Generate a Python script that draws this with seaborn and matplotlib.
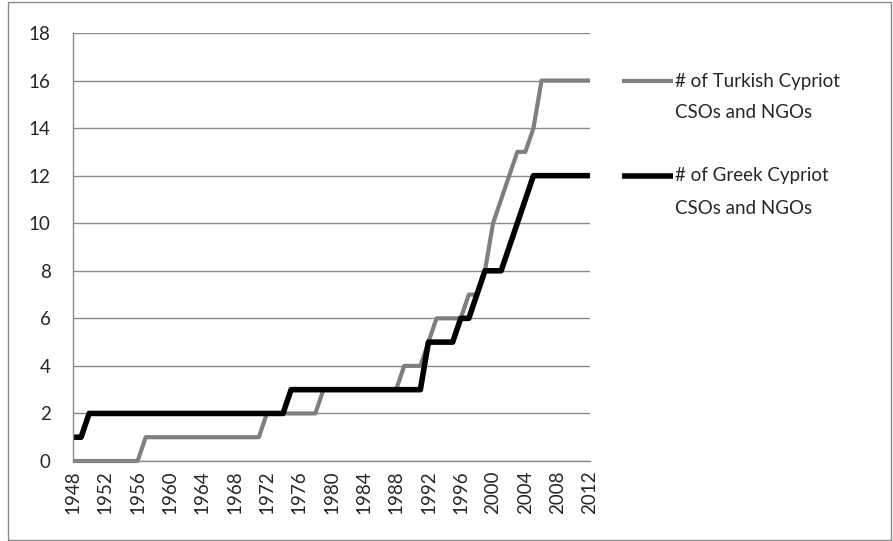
import matplotlib
matplotlib.use("Agg")
import matplotlib.pyplot as plt
import seaborn as sns
import pandas as pd
from matplotlib.lines import Line2D
from matplotlib.patches import Rectangle

# ---------------- data ----------------
years = list(range(1948, 2013))
turkish = [0, 0, 0, 0, 0, 0, 0, 0, 0,
           1, 1, 1, 1, 1, 1, 1, 1, 1, 1, 1, 1, 1, 1, 1,
           2, 2, 2, 2, 2, 2, 2,
           3, 3, 3, 3, 3, 3, 3, 3, 3, 3,
           4, 4, 4,
           5,
           6, 6, 6, 6,
           7, 7,
           8, 10, 11, 12, 13, 13, 14,
           16, 16, 16, 16, 16, 16, 16]
greek = [1, 1,
         2, 2, 2, 2, 2, 2, 2, 2, 2, 2, 2, 2, 2, 2, 2, 2, 2, 2, 2, 2, 2, 2, 2, 2, 2,
         3, 3, 3, 3, 3, 3, 3, 3, 3, 3, 3, 3, 3, 3, 3, 3, 3,
         5, 5, 5, 5,
         6, 6,
         7, 8, 8, 8, 9, 10, 11,
         12, 12, 12, 12, 12, 12, 12, 12]
series_names = ["# of Turkish Cypriot CSOs and NGOs", "# of Greek Cypriot CSOs and NGOs"]
legend_lines = [["# of Turkish Cypriot", "CSOs and NGOs"], ["# of Greek Cypriot", "CSOs and NGOs"]]
y_ticks = [0, 2, 4, 6, 8, 10, 12, 14, 16, 18]
label_years = [1948, 1952, 1956, 1960, 1964, 1968, 1972, 1976, 1980,
               1984, 1988, 1992, 1996, 2000, 2004, 2008, 2012]

# ---------------- style ----------------
sns.set_style("white")
plt.rcParams['font.family'] = ['Lato', 'DejaVu Sans']
W, H = 893, 541
fig = plt.figure(figsize=(W / 100, H / 100), dpi=100)
ax = fig.add_axes([73 / W, 1 - 461 / H, 517 / W, 428 / H])

colors = ["#7f7f7f", "#000000"]
widths = [3.0, 4.0]

df = pd.DataFrame({
    "year": years + years,
    "count": turkish + greek,
    "series": [series_names[0]] * len(years) + [series_names[1]] * len(years),
})

for name, c, lw in zip(series_names, colors, widths):
    sns.lineplot(data=df[df["series"] == name], x="year", y="count", color=c,
                 linewidth=lw, ax=ax, legend=False, clip_on=False,
                 solid_capstyle="butt", solid_joinstyle="round")

grid_c = "#8a8a8a"
text_c = "#262626"
ax.set_xlim(1948, 2012)
ax.set_ylim(0, 18)
ax.set_yticks(y_ticks)
ax.set_yticklabels([str(v) for v in y_ticks])
ax.set_xticks(years)
ax.set_xticklabels([str(y) if y in label_years else "" for y in years], rotation=90)
ax.yaxis.grid(True, color=grid_c, linewidth=1)
ax.xaxis.grid(False)
ax.set_axisbelow(True)
for s in ["top", "right"]:
    ax.spines[s].set_visible(False)
for s in ["left", "bottom"]:
    ax.spines[s].set_color(grid_c)
    ax.spines[s].set_linewidth(1)
ax.tick_params(axis="both", which="both", direction="out", length=4, width=1,
               color=grid_c, labelsize=13.5, labelcolor=text_c)
ax.tick_params(axis="y", pad=12)
ax.tick_params(axis="x", pad=3)
ax.set_xlabel("")
ax.set_ylabel("")

# ---------------- legend ----------------
leg_y = [81, 176]
for (l1, l2), c, lw, yy in zip(legend_lines, colors, widths, leg_y):
    fig.add_artist(Line2D([622 / W, 673 / W], [1 - yy / H] * 2, transform=fig.transFigure,
                          color=c, linewidth=lw, solid_capstyle="butt"))
    fig.text(675 / W, 1 - yy / H, l1, va="center", ha="left", fontsize=13.5, color=text_c)
    fig.text(675 / W, 1 - (yy + 32) / H, l2, va="center", ha="left", fontsize=13.5, color=text_c)

# chart border
fig.add_artist(Rectangle((8 / W, 1 / H), 883 / W, 538 / H, transform=fig.transFigure,
                         fill=False, edgecolor=grid_c, linewidth=1))

fig.savefig("out.png", dpi=100)
